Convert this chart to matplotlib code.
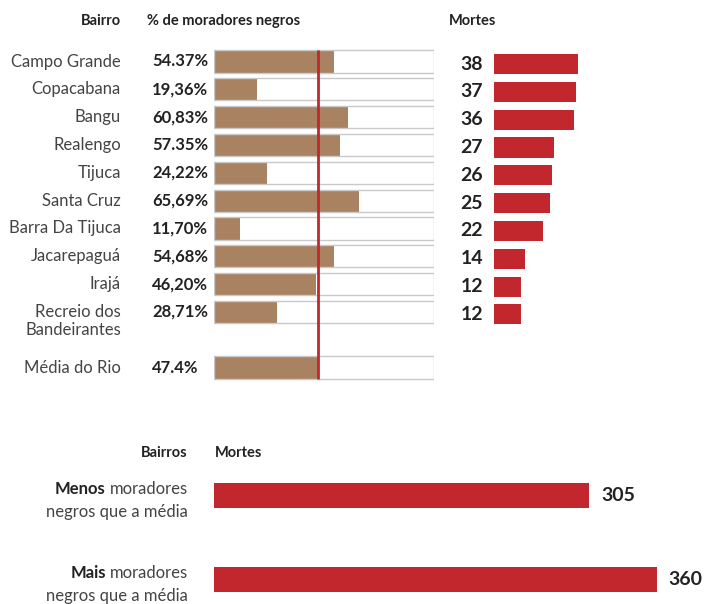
import matplotlib
matplotlib.use("Agg")
import matplotlib.pyplot as plt
import matplotlib.transforms as mtransforms

plt.rcParams['font.family'] = ['Lato', 'DejaVu Sans']

# Bairros do Rio: % de moradores negros e mortes
bairros = ["Campo Grande", "Copacabana", "Bangu", "Realengo", "Tijuca", "Santa Cruz",
           "Barra Da Tijuca", "Jacarepaguá", "Irajá", "Recreio dos\nBandeirantes"]
pct_negros = [54.37, 19.36, 60.83, 57.35, 24.22, 65.69, 11.70, 54.68, 46.20, 28.71]
pct_labels = ["54.37%", "19,36%", "60,83%", "57.35%", "24,22%", "65,69%",
              "11,70%", "54,68%", "46,20%", "28,71%"]
mortes = [38, 37, 36, 27, 26, 25, 22, 14, 12, 12]

media_nome = "Média do Rio"
media_rio = 47.4
media_label = "47.4%"

# Resumo por grupo
grupo_destaque = ["Menos", "Mais"]
grupo_linha1 = "moradores"
grupo_linha2 = "negros que a média"
mortes_grupo = [305, 360]

BROWN = '#a98262'
RED = '#c1272d'
DARK = '#222222'
GREY = '#444444'

W, H = 705, 604
fig = plt.figure(figsize=(W / 100, H / 100), dpi=100)


def px_axes(x0, y0, x1, y1):
    # axes placed by pixel box (top-left origin)
    a = fig.add_axes([x0 / W, 1 - y1 / H, (x1 - x0) / W, (y1 - y0) / H])
    a.axis('off')
    return a


ROW = 27.83
TOP = 61.5
rows = list(range(len(bairros)))
media_row = len(bairros) + 1

# --- percentage bars ---
ax = px_axes(214, TOP - 0.75 * ROW, 434, TOP + (media_row + 0.75) * ROW)
ax.set_xlim(0, 100)
ax.set_ylim(media_row + 0.75, -0.75)

ys = rows + [media_row]
vals = pct_negros + [media_rio]
h = 0.8
ax.barh(ys, [100] * len(ys), height=h, color='white', zorder=1)
ax.barh(ys, vals, height=h, color=BROWN, zorder=2)
ax.barh(ys, [100] * len(ys), height=h, fill=False, edgecolor='#c9c9c9', lw=1, zorder=2.5)
ax.vlines(media_rio, ys[0] - h / 2, ys[-1] + h / 2, color=RED, lw=2, zorder=3)

trans = mtransforms.blended_transform_factory(fig.transFigure, ax.transData)
names = bairros + [media_nome]
labels = pct_labels + [media_label]
for y, name, lab in zip(ys, names, labels):
    for k, line in enumerate(name.split("\n")):
        ax.annotate(line, xy=(121 / W, y), xycoords=trans, xytext=(0, -18 * k),
                    textcoords='offset pixels', ha='right', va='center',
                    fontsize=12, color=GREY)
    ax.annotate(lab, xy=(152 / W, y), xycoords=trans, ha='left', va='center',
                fontsize=12, fontweight='bold', color=DARK)

# --- deaths bars ---
ax2 = px_axes(494, TOP - 0.75 * ROW + 2.5, 494 + 2.22 * 45, TOP + (media_row + 0.75) * ROW + 2.5)
ax2.set_xlim(0, 45)
ax2.set_ylim(media_row + 0.75, -0.75)
ax2.barh(rows, mortes, height=0.72, color=RED)
trans2 = mtransforms.blended_transform_factory(fig.transFigure, ax2.transData)
for y, m in zip(rows, mortes):
    ax2.annotate(str(m), xy=(483 / W, y), xycoords=trans2, ha='right', va='center',
                 fontsize=14, fontweight='bold', color=DARK)

# headers
HDR = 10.5
fig.text(121 / W, 1 - 21 / H, "Bairro", ha='right', va='center', fontsize=HDR, fontweight='bold', color=DARK)
fig.text(147 / W, 1 - 21 / H, "% de moradores negros", ha='left', va='center', fontsize=HDR, fontweight='bold', color=DARK)
fig.text(449 / W, 1 - 21 / H, "Mortes", ha='left', va='center', fontsize=HDR, fontweight='bold', color=DARK)

# --- group summary ---
ax3 = px_axes(214, 440, 214 + 1.23 * 395, 604)
ax3.set_xlim(0, 395)
ax3.set_ylim(1.29, -0.66)
gy = list(range(len(mortes_grupo)))
ax3.barh(gy, mortes_grupo, height=0.3, color=RED)
for y, m in zip(gy, mortes_grupo):
    ax3.annotate(str(m), xy=(m, y), xytext=(12, 0), textcoords='offset pixels',
                 ha='left', va='center', fontsize=14, fontweight='bold', color=DARK)

trans3 = mtransforms.blended_transform_factory(fig.transFigure, ax3.transData)
for y, word in zip(gy, grupo_destaque):
    t1 = ax3.annotate(grupo_linha1, xy=(188 / W, y), xycoords=trans3, xytext=(0, 7),
                      textcoords='offset pixels', ha='right', va='center',
                      fontsize=12, color=GREY)
    ax3.annotate(word, xy=(0, 0), xycoords=t1, xytext=(-4, 0), textcoords='offset pixels',
                 ha='right', va='bottom', fontsize=12, fontweight='bold', color=DARK)
    ax3.annotate(grupo_linha2, xy=(188 / W, y), xycoords=trans3, xytext=(0, -16),
                 textcoords='offset pixels', ha='right', va='center',
                 fontsize=12, color=GREY)

fig.text(188 / W, 1 - 453 / H, "Bairros", ha='right', va='center', fontsize=HDR, fontweight='bold', color=DARK)
fig.text(215 / W, 1 - 453 / H, "Mortes", ha='left', va='center', fontsize=HDR, fontweight='bold', color=DARK)

fig.savefig("out.png", dpi=100, facecolor='white')
